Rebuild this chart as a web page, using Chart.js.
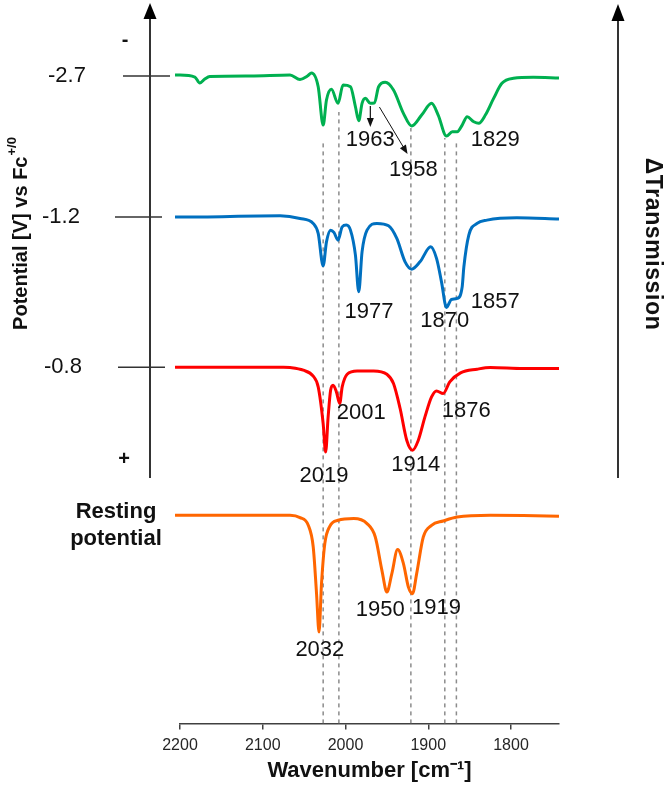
<!DOCTYPE html>
<html>
<head>
<meta charset="utf-8">
<script src="https://cdn.jsdelivr.net/npm/chart.js@4.4.1/dist/chart.umd.min.js"></script>
<style>
  html, body { margin: 0; padding: 0; background: #fff; }
</style>
</head>
<body>
<canvas id="myChart" width="664" height="785"></canvas>
<script>
// spectra: wavenumber (cm-1) and change in transmission (a.u.)
const greenWn = [2206, 2200, 2182, 2176, 2170, 2164, 2115, 2067, 2055, 2046, 2041, 2033, 2027, 2023, 2017, 2009, 2003, 1994, 1988, 1984, 1980, 1976, 1970, 1965, 1960, 1952, 1942, 1930, 1920, 1908, 1896, 1888, 1878, 1871, 1865, 1859, 1853, 1845, 1839, 1831, 1821, 1811, 1797, 1773, 1742];
const greenT  = [1, 1, -1, -7, -3, -0.5, 0, 1, -3.5, 0, 3, -10.7, -49, -24, -13.3, -27.3, -9, -10.7, -30.7, -44.7, -27.3, -22.3, -27.3, -26.7, -10.7, -6.3, -14, -37.3, -50, -39, -27.3, -39, -60, -55.7, -55.7, -49, -40.7, -45.7, -47.3, -39, -22.3, -7.3, -2.3, -1.3, -2];

const blueWn = [2206, 2200, 2079, 2055, 2039, 2033, 2027, 2023, 2018, 2014, 2009, 2004, 1999, 1994, 1988, 1984, 1980, 1974, 1962, 1948, 1938, 1928, 1920, 1910, 1897, 1890, 1884, 1878, 1872, 1865, 1859, 1857, 1851, 1841, 1829, 1793, 1742];
const blueT  = [0, 0, 1.3, -1.3, -6.3, -16.3, -48.7, -24.7, -13, -15.3, -23, -9.7, -8, -13, -38, -74.7, -34.7, -13, -6.3, -8.7, -21.3, -44.7, -52, -44.7, -29.7, -41.3, -64.7, -90.3, -82.3, -81.3, -69.7, -50, -18, -6.3, -3, -0.7, -2];

const redWn = [2206, 2200, 2075, 2067, 2051, 2039, 2033, 2027, 2024, 2021, 2018, 2015, 2011, 2007, 2004, 1998, 1986, 1966, 1950, 1942, 1934, 1926, 1919, 1912, 1904, 1896, 1890, 1882, 1874, 1861, 1841, 1825, 1785, 1742];
const redT  = [0, 0, 0, -0.3, -3, -9, -19.7, -56.3, -84.7, -49.7, -23, -18, -24.7, -36.3, -19.7, -7, -3.7, -3.7, -7, -16.3, -41.3, -73, -83, -73, -49.7, -29.7, -23.7, -26.3, -14.7, -5.7, -2, -0.3, -1.3, -1.3];

const orangeWn = [2206, 2200, 2067, 2055, 2045, 2039, 2035, 2032, 2029, 2025, 2019, 2009, 1990, 1974, 1964, 1956, 1950, 1944, 1937, 1930, 1924, 1919, 1914, 1906, 1896, 1882, 1865, 1825, 1785, 1742];
const orangeT  = [0, 0, 0, -2.3, -10, -31.7, -78.3, -116.7, -68.3, -28.3, -11, -5, -3.3, -8.3, -21.7, -55, -76.7, -58.3, -34.3, -48.3, -71.7, -78.3, -58.3, -21.7, -10, -5.7, -1.7, 0, -0.3, -1];

// vertical stacking offsets (green, blue, red, orange)
const offsets = [647, 506, 356, 208];
const potentialLabels = ['-2.7', '-1.2', '-0.8'];

// dashed guide lines
const guideWn  = [2027, 2008, 1921, 1880, 1866];
const guideTop = [580, 611, 595, 585, 583];

const xTicks = [2200, 2100, 2000, 1900, 1800];

const FONT = '"Liberation Sans", Arial, Helvetica, sans-serif';

function toPoints(wn, t, off) {
    return wn.map((w, i) => ({ x: w, y: off + t[i] }));
}

const spectra = [
    { wn: greenWn, t: greenT, color: '#00B050' },
    { wn: blueWn, t: blueT, color: '#0070C0' },
    { wn: redWn, t: redT, color: '#FF0000' },
    { wn: orangeWn, t: orangeT, color: '#FF6600' }
];

const datasets = spectra.map((s, i) => ({
    data: toPoints(s.wn, s.t, offsets[i]),
    borderColor: s.color,
    borderWidth: 3,
    pointRadius: 0,
    fill: false,
    cubicInterpolationMode: 'monotone',
    clip: false
}));

guideWn.forEach((w, i) => {
    datasets.push({
        data: [{ x: w, y: 0 }, { x: w, y: guideTop[i] }],
        borderColor: '#8c8c8c',
        borderWidth: 1.5,
        borderDash: [4, 4],
        pointRadius: 0,
        fill: false
    });
});

// peak labels (wavenumber / y position in chart units)
const peakNotes = [
    { text: '1963', wn: 1970, v: 583 },
    { text: '1958', wn: 1918, v: 553 },
    { text: '1829', wn: 1819, v: 583 },
    { text: '1977', wn: 1971.5, v: 411 },
    { text: '1870', wn: 1880, v: 402 },
    { text: '1857', wn: 1819, v: 421 },
    { text: '2001', wn: 1981, v: 310 },
    { text: '1876', wn: 1854, v: 312 },
    { text: '1914', wn: 1915, v: 258 },
    { text: '2019', wn: 2026, v: 247 },
    { text: '2032', wn: 2031, v: 73 },
    { text: '1950', wn: 1958, v: 113 },
    { text: '1919', wn: 1890, v: 115 }
];

function arrow(ctx, x1, y1, x2, y2, len, half, lw) {
    const a = Math.atan2(y2 - y1, x2 - x1);
    ctx.lineWidth = lw;
    ctx.beginPath();
    ctx.moveTo(x1, y1);
    ctx.lineTo(x2 - Math.cos(a) * len * 0.8, y2 - Math.sin(a) * len * 0.8);
    ctx.stroke();
    ctx.beginPath();
    ctx.moveTo(x2, y2);
    ctx.lineTo(x2 - Math.cos(a) * len - Math.sin(a) * half, y2 - Math.sin(a) * len + Math.cos(a) * half);
    ctx.lineTo(x2 - Math.cos(a) * len + Math.sin(a) * half, y2 - Math.sin(a) * len - Math.cos(a) * half);
    ctx.closePath();
    ctx.fill();
}

const decor = {
    id: 'decor',
    afterDatasetsDraw(chart) {
        const { ctx, scales: { x, y } } = chart;
        ctx.save();
        ctx.fillStyle = '#111';
        ctx.strokeStyle = '#111';

        // peak labels
        ctx.font = '22px ' + FONT;
        ctx.textAlign = 'center';
        ctx.textBaseline = 'middle';
        peakNotes.forEach(p => ctx.fillText(p.text, x.getPixelForValue(p.wn), y.getPixelForValue(p.v)));

        // small arrows near the green trace
        arrow(ctx, x.getPixelForValue(1970), y.getPixelForValue(617), x.getPixelForValue(1970), y.getPixelForValue(596), 9, 3.5, 1.2);
        arrow(ctx, x.getPixelForValue(1959), y.getPixelForValue(616), x.getPixelForValue(1925), y.getPixelForValue(569), 9, 3.5, 1);

        // potential axis (left)
        ctx.strokeStyle = '#000';
        ctx.fillStyle = '#000';
        arrow(ctx, 150, 478, 150, 3, 16, 6.5, 1.6);
        const tickSpans = [[123, 170], [115, 162], [118, 165]];
        const labelX = [67, 61, 63];
        ctx.strokeStyle = '#333';
        ctx.lineWidth = 1.5;
        ctx.fillStyle = '#111';
        ctx.font = '22px ' + FONT;
        potentialLabels.forEach((lab, i) => {
            const py = y.getPixelForValue(offsets[i]);
            ctx.beginPath();
            ctx.moveTo(tickSpans[i][0], py);
            ctx.lineTo(tickSpans[i][1], py);
            ctx.stroke();
            ctx.fillText(lab, labelX[i], py);
        });
        ctx.font = 'bold 20px ' + FONT;
        ctx.fillText('-', 125, 40);
        ctx.fillText('+', 124, 459);

        ctx.font = 'bold 22px ' + FONT;
        ctx.fillText('Resting', 116, 512);
        ctx.fillText('potential', 116, 539);

        // y title with superscript
        ctx.save();
        ctx.translate(21, 234);
        ctx.rotate(-Math.PI / 2);
        ctx.font = 'bold 20px ' + FONT;
        const main = 'Potential [V] vs Fc';
        const mw = ctx.measureText(main).width;
        ctx.font = 'bold 13px ' + FONT;
        const sw = ctx.measureText('+/0').width;
        const start = -(mw + sw) / 2;
        ctx.textAlign = 'left';
        ctx.font = 'bold 20px ' + FONT;
        ctx.fillText(main, start, 0);
        ctx.font = 'bold 13px ' + FONT;
        ctx.fillText('+/0', start + mw + 1, -9);
        ctx.restore();

        // transmission axis (right)
        ctx.strokeStyle = '#000';
        ctx.fillStyle = '#000';
        arrow(ctx, 618, 478, 618, 4, 17, 6.5, 1.6);
        ctx.save();
        ctx.translate(652, 244);
        ctx.rotate(Math.PI / 2);
        ctx.font = 'bold 23px ' + FONT;
        ctx.letterSpacing = '0.6px';
        ctx.textAlign = 'center';
        ctx.fillStyle = '#111';
        ctx.fillText('\u0394Transmission', 0, 0);
        ctx.restore();

        ctx.restore();
    }
};

const ctx = document.getElementById('myChart').getContext('2d');
const myChart = new Chart(ctx, {
    type: 'line',
    data: { datasets: datasets },
    options: {
        responsive: false,
        animation: false,
        layout: { padding: { left: 180, right: 105, top: 0, bottom: 1 } },
        plugins: { legend: { display: false }, tooltip: { enabled: false } },
        scales: {
            x: {
                type: 'linear',
                reverse: true,
                min: 1742,
                max: 2200,
                afterBuildTicks: axis => { axis.ticks = xTicks.map(v => ({ value: v })); },
                grid: { drawOnChartArea: false, drawTicks: true, tickLength: 6, color: '#404040', lineWidth: 1.5 },
                border: { display: true, color: '#404040', width: 1.5 },
                ticks: {
                    color: '#262626',
                    font: { size: 16, family: FONT },
                    padding: 7,
                    maxRotation: 0,
                    callback: v => String(v)
                },
                title: {
                    display: true,
                    text: 'Wavenumber [cm\u207B\u00B9]',
                    color: '#111',
                    font: { size: 22, weight: 'bold', family: FONT },
                    padding: { top: -5, bottom: 0 }
                }
            },
            y: { display: false, min: 0, max: 723 }
        }
    },
    plugins: [decor]
});
</script>
</body>
</html>
